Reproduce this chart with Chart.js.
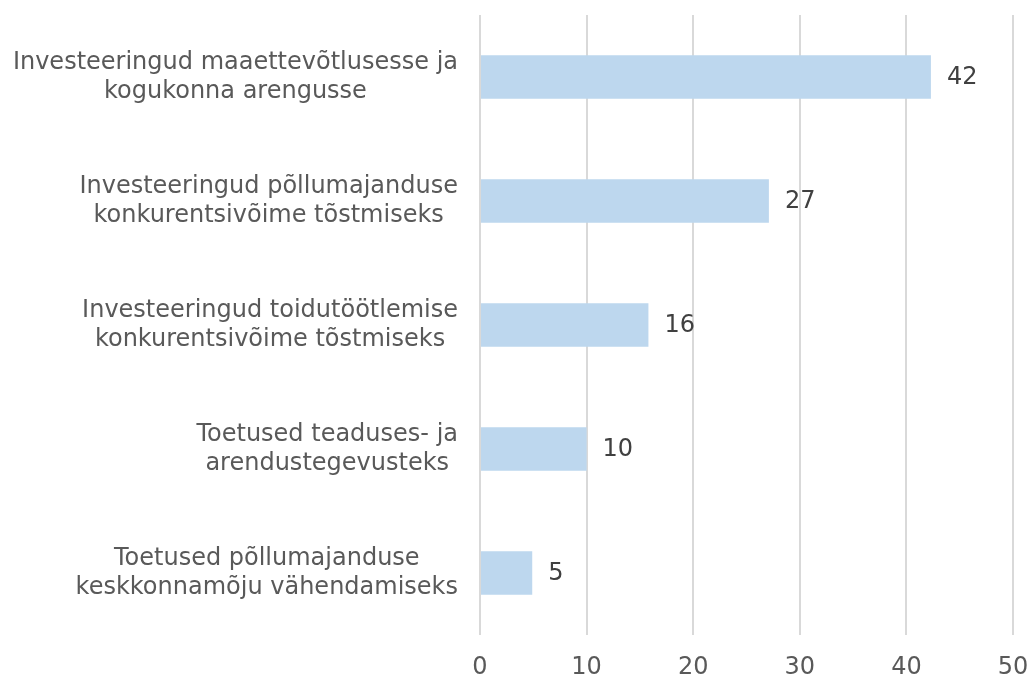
<!DOCTYPE html>
<html>
<head>
<meta charset="utf-8">
<script src="https://cdn.jsdelivr.net/npm/chart.js@4/dist/chart.umd.min.js"></script>
<style>
  html, body { margin: 0; padding: 0; background: #fff; }
  #wrap { width: 1033px; height: 681px; }
</style>
</head>
<body>
<div id="wrap"><canvas id="chart" width="1033" height="681"></canvas></div>
<script>
// categories (each label split into its two lines)
const categories = [
  ['Investeeringud maaettevõtlusesse ja', 'kogukonna arengusse'],
  ['Investeeringud põllumajanduse', 'konkurentsivõime tõstmiseks'],
  ['Investeeringud toidutöötlemise', 'konkurentsivõime tõstmiseks'],
  ['Toetused teaduses- ja', 'arendustegevusteks'],
  ['Toetused põllumajanduse', 'keskkonnamõju vähendamiseks']
];
// bar lengths
const values = [42.3, 27.1, 15.8, 10.0, 4.9];
// labels printed next to the bars
const valueLabels = ['42', '27', '16', '10', '5'];
const xTicks = [0, 10, 20, 30, 40, 50];

const FONT = '"DejaVu Sans", Verdana, sans-serif';
const SIZE = 24;

// draws the category labels: block right-aligned to the axis, lines centred inside it
const categoryLabels = {
  id: 'categoryLabels',
  afterDraw(chart) {
    const ctx = chart.ctx;
    const y = chart.scales.y;
    ctx.save();
    ctx.font = SIZE + 'px ' + FONT;
    ctx.fillStyle = '#595959';
    ctx.textAlign = 'center';
    ctx.textBaseline = 'middle';
    const lineH = 29;
    categories.forEach((lines, i) => {
      const cy = y.getPixelForTick(i);
      const w = Math.max(...lines.map(l => ctx.measureText(l).width));
      const cx = y.right - 22 - w / 2;
      lines.forEach((l, j) => {
        ctx.fillText(l, cx, cy + (j - (lines.length - 1) / 2) * lineH);
      });
    });
    ctx.restore();
  }
};

// value labels at the end of each bar
const barLabels = {
  id: 'barLabels',
  afterDatasetsDraw(chart) {
    const ctx = chart.ctx;
    const meta = chart.getDatasetMeta(0);
    ctx.save();
    ctx.font = SIZE + 'px ' + FONT;
    ctx.fillStyle = '#404040';
    ctx.textAlign = 'left';
    ctx.textBaseline = 'middle';
    meta.data.forEach((bar, i) => {
      ctx.fillText(valueLabels[i], bar.x + 16, bar.y + 1);
    });
    ctx.restore();
  }
};

new Chart(document.getElementById('chart'), {
  type: 'bar',
  data: {
    labels: categories,
    datasets: [{
      data: values,
      backgroundColor: '#BDD7EE',
      borderWidth: 0,
      barPercentage: 0.35,
      categoryPercentage: 1
    }]
  },
  options: {
    indexAxis: 'y',
    responsive: false,
    animation: false,
    layout: { padding: { top: 15, right: 20, left: 0, bottom: 0 } },
    plugins: {
      legend: { display: false },
      tooltip: { enabled: false }
    },
    scales: {
      x: {
        min: 0,
        max: 50,
        afterBuildTicks(scale) {
          scale.ticks = xTicks.map(v => ({ value: v }));
        },
        afterFit(scale) {
          scale.height = 46;
          scale.paddingLeft = 0;
          scale.paddingRight = 0;
        },
        grid: { color: '#d9d9d9', lineWidth: 2, drawTicks: false },
        border: { display: false },
        ticks: {
          padding: 18,
          color: '#595959',
          font: { family: FONT, size: SIZE }
        }
      },
      y: {
        afterFit(scale) { scale.width = 480; },
        grid: { display: false },
        border: { display: false },
        ticks: { display: false }
      }
    }
  },
  plugins: [categoryLabels, barLabels]
});
</script>
</body>
</html>
